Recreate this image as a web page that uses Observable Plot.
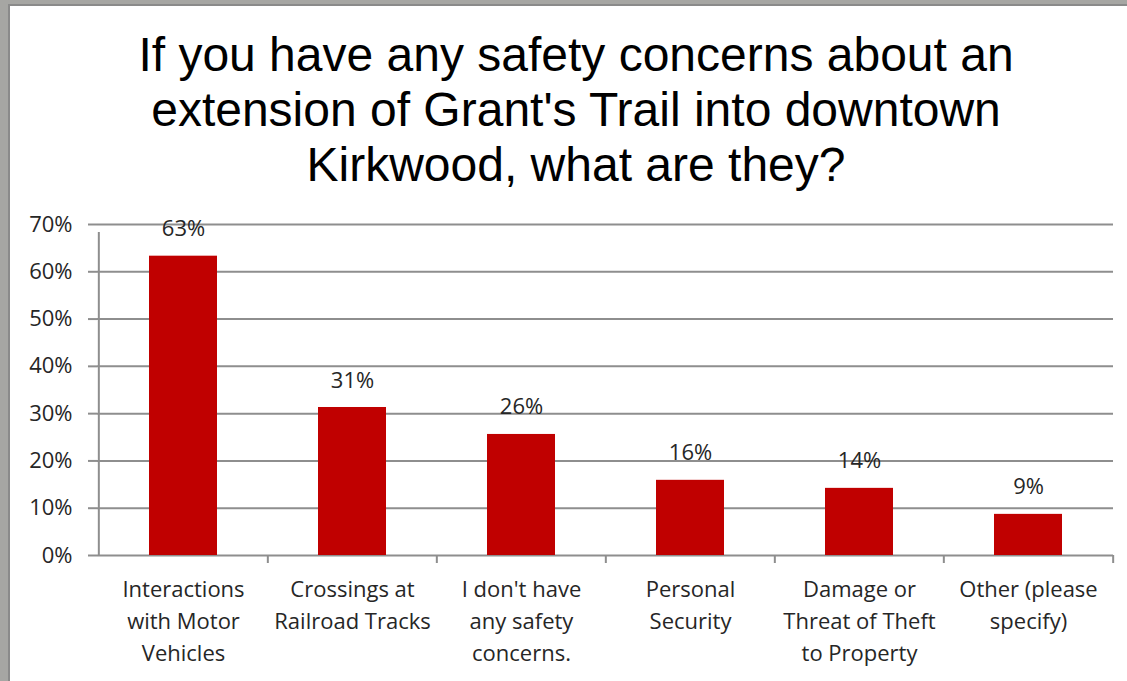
<!DOCTYPE html>
<html><head><meta charset="utf-8">
<script src="https://cdn.jsdelivr.net/npm/d3@7"></script>
<script src="https://cdn.jsdelivr.net/npm/@observablehq/plot@0.6"></script>
<style>
html,body{margin:0;padding:0;}
body{width:1127px;height:681px;background:#a6a6a3;position:relative;overflow:hidden;}
#panel{position:absolute;left:8px;top:4px;right:0;bottom:0;background:#fff;border-left:2px solid #8a8a8a;border-top:2px solid #8a8a8a;}
#title{position:absolute;left:0;top:27px;width:1152px;text-align:center;font-family:"Liberation Sans",Arial,sans-serif;font-size:48px;line-height:55px;color:#000;}
#chart{position:absolute;left:0;top:195px;}
</style></head><body>
<div id="panel"></div>
<div id="title">If you have any safety concerns about an<br>extension of Grant's Trail into downtown<br>Kirkwood, what are they?</div>
<div id="chart"></div>
<script>
const categories = ["Interactions with Motor Vehicles","Crossings at Railroad Tracks","I don't have any safety concerns.","Personal Security","Damage or Threat of Theft to Property","Other (please specify)"];
const tickLabels = ["Interactions\nwith Motor\nVehicles","Crossings at\nRailroad Tracks","I don't have\nany safety\nconcerns.","Personal\nSecurity","Damage or\nThreat of Theft\nto Property","Other (please\nspecify)"];
const values = [63.3, 31.3, 25.6, 15.9, 14.2, 8.7];
const yTicks = [0, 10, 20, 30, 40, 50, 60, 70];

const data = categories.map((c, i) => ({category: c, value: values[i], label: tickLabels[i]}));
const W = 1127, H = 486, ML = 97, MR = 14, MT = 29, MB = 126;
const step = (W - ML - MR) / categories.length;
const grey = "#8e8e8e";
const txt = "#262626";
const font = "'Open Sans', Lato, sans-serif";

const chart = Plot.plot({
  width: W, height: H,
  marginLeft: ML, marginRight: MR, marginTop: MT, marginBottom: MB,
  style: {fontFamily: font, background: "transparent", overflow: "visible"},
  x: {domain: categories, paddingInner: 0.6, paddingOuter: 0.3},
  y: {domain: [0, 70]},
  marks: [
    Plot.gridY(yTicks, {stroke: grey, strokeOpacity: 1, strokeWidth: 2}),
    Plot.axisY({ticks: yTicks, tickSize: 9, tickPadding: 16, tickFormat: d => d + "%", stroke: grey, strokeWidth: 2, fill: txt, fontSize: 22, label: null}),
    Plot.ruleX([categories[0]], {dx: -step / 2, y1: 0, y2: 70, insetBottom: -8, stroke: grey, strokeWidth: 2}),
    Plot.ruleX(categories.slice(1), {dx: -step / 2, y1: 0, y2: 0, insetBottom: -8, stroke: grey, strokeWidth: 2}),
    Plot.ruleX([categories[categories.length - 1]], {dx: step / 2, y1: 0, y2: 0, insetBottom: -8, stroke: grey, strokeWidth: 2}),
    Plot.barY(data, {x: "category", y: "value", fill: "#c00000"}),
    Plot.text(data, {x: "category", y: "value", text: d => Math.round(d.value) + "%", dy: -27, fontSize: 22, fill: txt}),
    Plot.axisX({tickSize: 0, tickPadding: 19, tickFormat: d => tickLabels[categories.indexOf(d)], fontSize: 22, lineHeight: 1.455, fill: txt, label: null})
  ]
});
document.getElementById("chart").appendChild(chart);
</script>
</body></html>
